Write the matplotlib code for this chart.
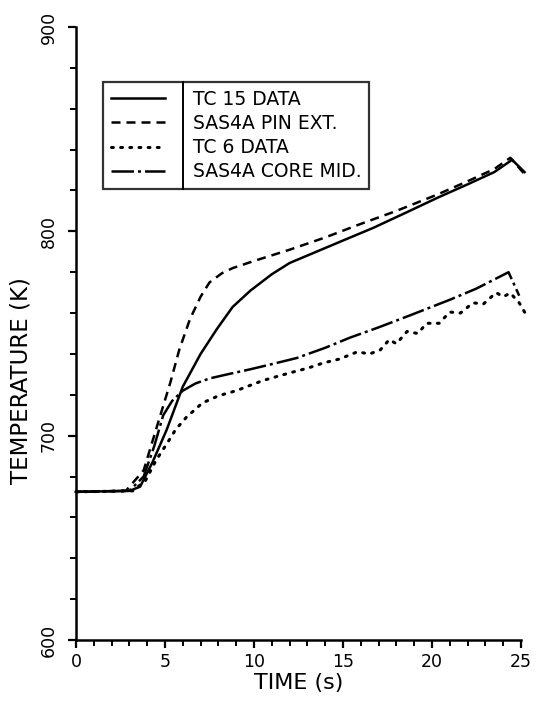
import matplotlib
matplotlib.use('Agg')
import matplotlib.pyplot as plt
from matplotlib.lines import Line2D
from matplotlib.ticker import MultipleLocator

# values (time in s, temperature in K)
tc15_t = [0, 3.0, 3.6, 4.3, 5.1, 6.0, 7.0, 7.9, 8.8, 9.8, 11.0, 12.0, 13.5, 15.0,
          16.7, 18.5, 20.3, 22.0, 23.5, 24.5, 25.2]
tc15_T = [672.5, 673, 675, 687, 703, 724, 740, 752, 763, 771, 779, 784.5, 790, 795.5,
          801.7, 809, 816.4, 823, 829, 835, 829]

pin_t = [0, 2.8, 3.0, 3.8, 4.6, 5.3, 5.8, 6.4, 7.0, 7.5, 8.2, 8.8, 10.0, 12.0, 14.0,
         15.8, 18.0, 20.3, 22.0, 23.5, 24.4, 25.2]
pin_T = [672.5, 673, 675, 683, 706, 726, 742, 757, 768, 775, 779.5, 782, 785.5, 791, 797,
         803, 810, 818, 824.5, 830.5, 836, 828]

tc6_t = [0, 3.2, 3.9, 4.5, 5.1, 5.6, 6.2, 7.1, 8.0, 9.0, 10.5, 12.0, 13.0, 13.9, 14.8,
         15.8, 16.5, 17.1, 17.6, 18.0, 18.6, 19.2, 19.7, 20.4, 21.0, 21.6, 22.3, 22.9,
         23.6, 24.0, 24.4, 24.9, 25.3]
tc6_T = [672.5, 673, 678, 688, 696, 703, 709, 716, 719.5, 722, 727, 730.7, 733, 735.6, 737.5,
         741, 740, 742, 747, 745, 751, 750, 755, 755, 760.5, 760, 765, 764.5,
         770, 768, 769.8, 765, 759]

core_t = [0, 3.0, 3.8, 4.4, 4.9, 5.4, 6.0, 6.7, 7.5, 8.5, 9.8, 11.0, 12.4, 14.0, 15.4,
          17.0, 18.8, 21.0, 22.5, 24.3, 24.9]
core_T = [672.5, 673, 680, 695, 710, 717, 722, 725.5, 728, 730, 732.5, 735, 738, 743, 748,
          753, 759, 766.5, 772, 780, 768.5]

labels = ['TC 15 DATA', 'SAS4A PIN EXT.', 'TC 6 DATA', 'SAS4A CORE MID.']

fig = plt.figure(figsize=(5.37, 7.10), dpi=100)
ax = fig.add_axes([76 / 537, 70 / 710, 445 / 537, 613 / 710])

ax.plot(tc15_t, tc15_T, color='black', lw=1.8, clip_on=False, label=labels[0])
ax.plot(pin_t, pin_T, color='black', lw=1.8, linestyle=(0, (3.6, 2.4)), clip_on=False,
        label=labels[1])
ax.plot(tc6_t, tc6_T, color='black', lw=2.2, linestyle=(0, (0.6, 2.4)),
        dash_capstyle='round', clip_on=False, label=labels[2])
ax.plot(core_t, core_T, color='black', lw=1.8, linestyle=(0, (9, 1.6, 1.2, 1.6)),
        clip_on=False, label=labels[3])

ax.set_xlim(0, 25)
ax.set_ylim(600, 900)
ax.xaxis.set_major_locator(MultipleLocator(5))
ax.xaxis.set_minor_locator(MultipleLocator(1))
ax.yaxis.set_major_locator(MultipleLocator(100))
ax.yaxis.set_minor_locator(MultipleLocator(20))

for s in ['top', 'right']:
    ax.spines[s].set_visible(False)
for s in ['left', 'bottom']:
    ax.spines[s].set_linewidth(1.8)

ax.tick_params(which='major', direction='out', length=6, width=1.6, labelsize=12.5)
ax.tick_params(which='minor', direction='out', length=4, width=1.4)
ax.tick_params(axis='y', which='major', pad=7)
for lab in ax.get_yticklabels():
    lab.set_rotation(90)
    lab.set_verticalalignment('center')

ax.set_xlabel('TIME (s)', fontsize=16, labelpad=1)
ax.set_ylabel('TEMPERATURE (K)', fontsize=16.5)
ax.yaxis.set_label_coords(-0.097, 0.424)

leg = ax.legend(loc='upper left', bbox_to_anchor=(0.061, 0.910), fontsize=13.5,
                frameon=True, fancybox=False, edgecolor='black', handlelength=2.9,
                handletextpad=1.5, labelspacing=0.28, borderpad=0.4, borderaxespad=0)
leg.get_frame().set_linewidth(1.6)

# vertical divider between handles and labels
fig.canvas.draw()
r = fig.canvas.get_renderer()
lb = leg.get_window_extent(r)
tx = min(t.get_window_extent(r).x0 for t in leg.get_texts())
W, H = fig.bbox.width, fig.bbox.height
xd = (tx - 10) / W
fig.add_artist(Line2D([xd, xd], [lb.y0 / H, lb.y1 / H], transform=fig.transFigure,
                      color='black', lw=1.4))

fig.savefig('out.png', dpi=100)
